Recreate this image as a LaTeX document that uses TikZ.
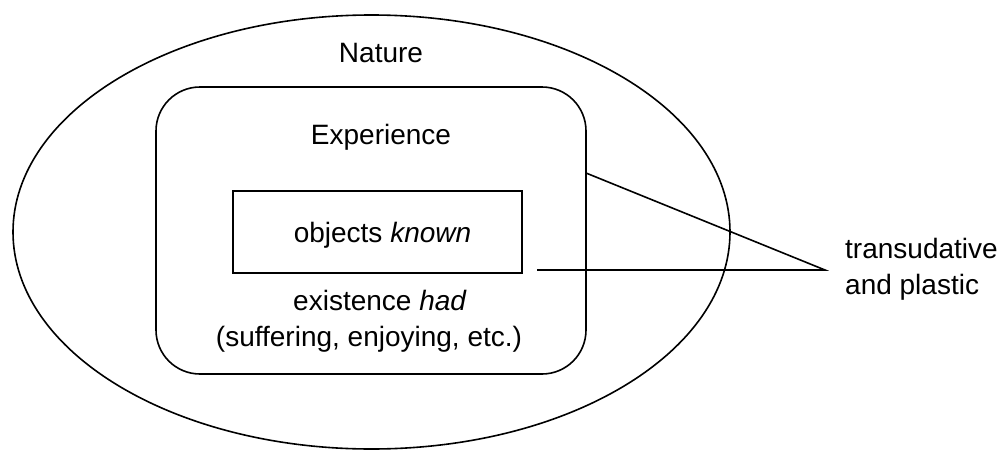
\documentclass[tikz,border=0pt]{standalone}
\usepackage{fontspec}
\setmainfont{Liberation Sans}
\usetikzlibrary{shapes.geometric}
\begin{document}
\begin{tikzpicture}[x=1pt,y=-1pt,
  outline/.style={draw=black,line width=1.6pt,inner sep=0pt,outer sep=0pt},
  label/.style={font=\fontsize{28}{36}\selectfont,inner sep=0pt,anchor=base},
  link/.style={line width=1.6pt}]
\useasboundingbox (0,0) rectangle (1007,450);
% outer ellipse, middle rounded box, inner box
\node[outline,ellipse,minimum width=717,minimum height=434] (nature) at (371.5,232) {};
\node[outline,rectangle,rounded corners=44pt,minimum width=430,minimum height=287] (exp) at (371,230.5) {};
\node[outline,rectangle,minimum width=289,minimum height=82] (objects) at (377.4,231.7) {};
% texts
\node[label] (tnature) at (381,62) {Nature};
\node[label] (texp) at (381,144) {Experience};
\node[label] (tobj) at (382.5,242) {objects \textit{known}};
\node[label] (thad) at (380,310) {existence \textit{had}};
\node[label] (tsuff) at (369,346) {(suffering, enjoying, etc.)};
\node[label,anchor=base west] (ttrans) at (845,258) {transudative};
\node[label,anchor=base west] (tplast) at (845,294) {and plastic};
% connectors meeting at the apex
\coordinate (apex) at (825,270);
\coordinate (lowstart) at (537,270);
\draw[link] (exp.east |- 0,173) -- (apex) -- (lowstart);
\end{tikzpicture}
\end{document}
